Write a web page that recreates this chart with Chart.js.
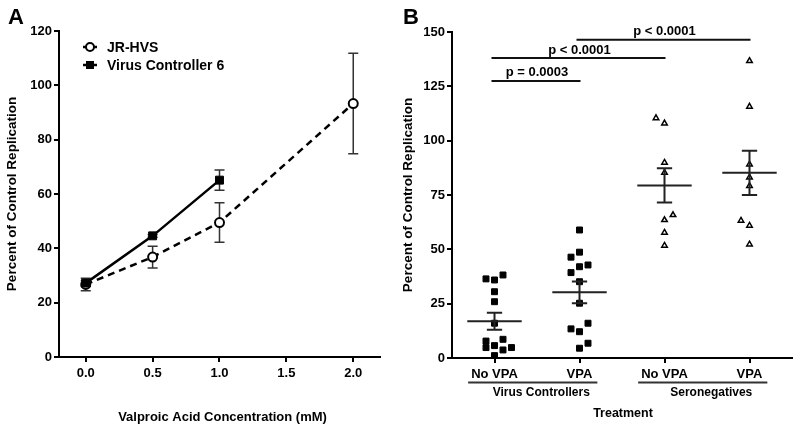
<!DOCTYPE html>
<html><head><meta charset="utf-8">
<script src="https://cdn.jsdelivr.net/npm/chart.js@4.4.0/dist/chart.umd.min.js"></script>
<style>
html,body{margin:0;padding:0;background:#fff;}
#wrap{position:relative;width:800px;height:432px;background:#fff;}
.box{position:absolute;top:0;width:400px;height:432px;}
canvas{display:block;}
</style></head><body>
<div id="wrap">
<div class="box" style="left:0"><canvas id="cA" width="400" height="432"></canvas></div>
<div class="box" style="left:400px"><canvas id="cB" width="400" height="432"></canvas></div>
</div>
<script>
// ---------- Panel A data ----------
const concA = [0, 0.5, 1.0, 2.0];
const jrMean = [26.7, 36.8, 49.5, 93.3];
const jrErr = [2.3, 4.0, 7.3, 18.5];
const vcConc = [0, 0.5, 1.0];
const vcMean = [27.2, 44.6, 65.1];
const vcErr = [1.0, 0.5, 3.7];
const xTicksA = [0, 0.5, 1.0, 1.5, 2.0];
const yTicksA = [0, 20, 40, 60, 80, 100, 120];
const seriesNamesA = ['JR-HVS', 'Virus Controller 6'];
const xTitleA = 'Valproic Acid Concentration (mM)';
const yTitle = 'Percent of Control Replication';

// ---------- Panel B data ----------
const groupLabelsB = ['No VPA', 'VPA', 'No VPA', 'VPA'];
const cohortsB = ['Virus Controllers', 'Seronegatives'];
const vcNoVpa = [36.4, 35.9, 38.2, 30.5, 25.9, 16.0, 7.8, 8.6, 4.8, 5.7, 3.7, 4.8, 1.1];
const vcNoVpaCol = [-1, 0, 1, 0, 0, 0, -1, 1, -1, 0, 1, 2, 0];
const vcVpa = [58.9, 46.4, 48.7, 42.8, 42.0, 39.3, 35.1, 25.2, 16.0, 13.4, 12.1, 6.8, 4.5];
const vcVpaCol = [0, -1, 0, 1, 0, -1, 0, 0, 1, -1, 0, 1, 0];
const snNoVpa = [110.4, 108.0, 89.9, 85.3, 65.8, 63.5, 57.7, 51.7];
const snNoVpaCol = [-1, 0, 0, 0, 1, 0, 0, 0];
const snVpa = [136.7, 115.7, 89.1, 83.1, 79.2, 63.2, 60.9, 52.3];
const snVpaCol = [0, 0, 0, 0, 0, -1, 0, 0];
const meansB = [16.9, 30.2, 79.4, 85.2];
const semB = [3.9, 5.0, 7.9, 10.2];
const sigPairs = [[1, 2], [1, 3], [2, 4]];
const sigHeights = [127.5, 138, 146.4];
const sigLabels = ['p = 0.0003', 'p < 0.0001', 'p < 0.0001'];
const yTicksB = [0, 25, 50, 75, 100, 125, 150];
const xTitleB = 'Treatment';

const FONT = "'Liberation Sans', Arial, Helvetica, sans-serif";
const JIT = 0.1;

function axisCommon() {
  return {
    grid: { display: true, drawOnChartArea: false, drawTicks: true, tickLength: 5, color: '#000', lineWidth: 2 },
    border: { display: true, color: '#000', width: 2 },
    ticks: { color: '#000', font: { family: FONT, size: 13, weight: 'bold' } }
  };
}

// ---------- Chart A ----------
const errPluginA = {
  id: 'errA',
  beforeDatasetsDraw(chart) {
    const ctx = chart.ctx, xs = chart.scales.x, ys = chart.scales.y;
    ctx.save();
    ctx.strokeStyle = '#333'; ctx.lineWidth = 1.5;
    const draw = (xv, m, e) => {
      const px = xs.getPixelForValue(xv), t = ys.getPixelForValue(m + e), b = ys.getPixelForValue(m - e);
      ctx.beginPath();
      ctx.moveTo(px, t); ctx.lineTo(px, b);
      ctx.moveTo(px - 5, t); ctx.lineTo(px + 5, t);
      ctx.moveTo(px - 5, b); ctx.lineTo(px + 5, b);
      ctx.stroke();
    };
    concA.forEach((c, i) => draw(c, jrMean[i], jrErr[i]));
    vcConc.forEach((c, i) => draw(c, vcMean[i], vcErr[i]));
    ctx.restore();
  },
  afterDraw(chart) {
    const ctx = chart.ctx, a = chart.chartArea;
    ctx.save();
    ctx.fillStyle = '#000';
    ctx.font = 'bold 22px ' + FONT;
    ctx.textAlign = 'left'; ctx.textBaseline = 'alphabetic';
    ctx.fillText('A', 8, 24);
    // y title
    ctx.font = 'bold 13.5px ' + FONT;
    ctx.textAlign = 'center'; ctx.textBaseline = 'middle';
    ctx.save();
    ctx.translate(12, (a.top + a.bottom) / 2);
    ctx.rotate(-Math.PI / 2);
    ctx.fillText(yTitle, 0, 0);
    ctx.restore();
    // x title
    ctx.font = 'bold 13px ' + FONT;
    ctx.fillText(xTitleA, (a.left + a.right) / 2 + 3, 417);
    // legend
    const items = [
      { y: 47, style: 'circle', r: 4, name: seriesNamesA[0] },
      { y: 65, style: 'rect', r: 5, name: seriesNamesA[1] }
    ];
    items.forEach(it => {
      ctx.strokeStyle = '#000'; ctx.lineWidth = 2.5;
      ctx.beginPath(); ctx.moveTo(83, it.y); ctx.lineTo(97, it.y); ctx.stroke();
      ctx.lineWidth = 2;
      ctx.beginPath();
      if (it.style === 'circle') { ctx.fillStyle = '#fff'; ctx.arc(90, it.y, it.r, 0, Math.PI * 2); ctx.fill(); ctx.stroke(); }
      else { ctx.fillStyle = '#000'; ctx.rect(90 - 4, it.y - 4, 8, 8); ctx.fill(); }
      ctx.fillStyle = '#000';
      ctx.font = 'bold 14px ' + FONT;
      ctx.textAlign = 'left'; ctx.textBaseline = 'middle';
      ctx.fillText(it.name, 107, it.y + 1);
    });
    ctx.restore();
  }
};

const axA_x = axisCommon();
const axA_y = axisCommon();
new Chart(document.getElementById('cA'), {
  type: 'scatter',
  data: {
    datasets: [
      {
        label: seriesNamesA[0], order: 1,
        data: concA.map((c, i) => ({ x: c, y: jrMean[i] })),
        showLine: true, borderColor: '#000', borderWidth: 2.5, borderDash: [7, 5],
        pointStyle: 'circle', pointRadius: 4.5, pointBackgroundColor: '#fff',
        pointBorderColor: '#000', pointBorderWidth: 2
      },
      {
        label: seriesNamesA[1], order: 0,
        data: vcConc.map((c, i) => ({ x: c, y: vcMean[i] })),
        showLine: true, borderColor: '#000', borderWidth: 2.5,
        pointStyle: 'rect', pointRadius: 5.6, pointBackgroundColor: '#000',
        pointBorderColor: '#000', pointBorderWidth: 1
      }
    ]
  },
  options: {
    responsive: false, animation: false, devicePixelRatio: 1,
    layout: { padding: { top: 31, right: 20, left: 0, bottom: 0 } },
    plugins: { legend: { display: false }, tooltip: { enabled: false } },
    scales: {
      x: Object.assign(axA_x, {
        type: 'linear', min: -0.2, max: 2.2,
        afterBuildTicks: s => { s.ticks = xTicksA.map(v => ({ value: v })); },
        afterFit: s => { s.height = 75; },
        ticks: Object.assign(axA_x.ticks, { padding: 4, callback: v => Number(v).toFixed(1) })
      }),
      y: Object.assign(axA_y, {
        type: 'linear', min: 0, max: 120,
        afterBuildTicks: s => { s.ticks = yTicksA.map(v => ({ value: v })); },
        afterFit: s => { s.width = 59; },
        ticks: Object.assign(axA_y.ticks, { padding: 2 })
      })
    }
  },
  plugins: [errPluginA]
});

// ---------- Chart B ----------
function pts(vals, cols, cat) { return vals.map((v, i) => ({ x: cat + cols[i] * JIT, y: v })); }

const pluginB = {
  id: 'decoB',
  afterDatasetsDraw(chart) {
    const ctx = chart.ctx, xs = chart.scales.x, ys = chart.scales.y;
    ctx.save();
    ctx.strokeStyle = '#222'; ctx.lineWidth = 2;
    meansB.forEach((m, i) => {
      const c = i + 1;
      const py = ys.getPixelForValue(m);
      ctx.beginPath();
      ctx.moveTo(xs.getPixelForValue(c - 0.32), py); ctx.lineTo(xs.getPixelForValue(c + 0.32), py);
      const t = ys.getPixelForValue(m + semB[i]), b = ys.getPixelForValue(m - semB[i]);
      const px = xs.getPixelForValue(c), hl = xs.getPixelForValue(c - 0.09), hr = xs.getPixelForValue(c + 0.09);
      ctx.moveTo(px, t); ctx.lineTo(px, b);
      ctx.moveTo(hl, t); ctx.lineTo(hr, t);
      ctx.moveTo(hl, b); ctx.lineTo(hr, b);
      ctx.stroke();
    });
    ctx.restore();
  },
  afterDraw(chart) {
    const ctx = chart.ctx, a = chart.chartArea, xs = chart.scales.x, ys = chart.scales.y;
    ctx.save();
    ctx.fillStyle = '#000';
    ctx.font = 'bold 22px ' + FONT;
    ctx.textAlign = 'left'; ctx.textBaseline = 'alphabetic';
    ctx.fillText('B', 3, 24);
    // significance bars
    ctx.strokeStyle = '#111'; ctx.lineWidth = 2;
    ctx.font = 'bold 13px ' + FONT;
    ctx.textAlign = 'center'; ctx.textBaseline = 'middle';
    sigPairs.forEach((p, i) => {
      const x1 = xs.getPixelForValue(p[0]) - 3, x2 = xs.getPixelForValue(p[1]) + 1;
      const py = ys.getPixelForValue(sigHeights[i]);
      ctx.beginPath(); ctx.moveTo(x1, py); ctx.lineTo(x2, py); ctx.stroke();
      ctx.fillText(sigLabels[i], xs.getPixelForValue((p[0] + p[1]) / 2), py - 8);
    });
    // group underlines and labels
    ctx.lineWidth = 2; ctx.strokeStyle = '#333';
    cohortsB.forEach((name, g) => {
      const c1 = g * 2 + 1, c2 = g * 2 + 2;
      const l = xs.getPixelForValue(c1 - 0.31), r = xs.getPixelForValue(c2 + 0.21);
      ctx.beginPath(); ctx.moveTo(l, 382.5); ctx.lineTo(r, 382.5); ctx.stroke();
      ctx.font = 'bold 12px ' + FONT;
      ctx.fillText(name, xs.getPixelForValue((c1 + c2) / 2 + 0.05), 393);
    });
    ctx.font = 'bold 12.5px ' + FONT;
    ctx.fillText(xTitleB, (a.left + a.right) / 2 + 1, 414);
    // y title
    ctx.font = 'bold 13.5px ' + FONT;
    ctx.save();
    ctx.translate(8, (a.top + a.bottom) / 2);
    ctx.rotate(-Math.PI / 2);
    ctx.fillText(yTitle, 0, 0);
    ctx.restore();
    ctx.restore();
  }
};

const sqStyle = { pointStyle: 'rect', pointRadius: 4.2, pointBackgroundColor: '#000', pointBorderColor: '#000', pointBorderWidth: 1, showLine: false };
const triStyle = { pointStyle: 'triangle', pointRadius: 3.2, pointBackgroundColor: '#fff', pointBorderColor: '#000', pointBorderWidth: 1.5, showLine: false };
const axB_x = axisCommon();
const axB_y = axisCommon();
new Chart(document.getElementById('cB'), {
  type: 'scatter',
  data: {
    datasets: [
      Object.assign({ label: 'VC No VPA', data: pts(vcNoVpa, vcNoVpaCol, 1) }, sqStyle),
      Object.assign({ label: 'VC VPA', data: pts(vcVpa, vcVpaCol, 2) }, sqStyle),
      Object.assign({ label: 'SN No VPA', data: pts(snNoVpa, snNoVpaCol, 3) }, triStyle),
      Object.assign({ label: 'SN VPA', data: pts(snVpa, snVpaCol, 4) }, triStyle)
    ]
  },
  options: {
    responsive: false, animation: false, devicePixelRatio: 1,
    layout: { padding: { top: 32, right: 8, left: 0, bottom: 0 } },
    plugins: { legend: { display: false }, tooltip: { enabled: false } },
    scales: {
      x: Object.assign(axB_x, {
        type: 'linear', min: 0.5, max: 4.5,
        afterBuildTicks: s => { s.ticks = [1, 2, 3, 4].map(v => ({ value: v })); },
        afterFit: s => { s.height = 74; },
        ticks: Object.assign(axB_x.ticks, { padding: 4, callback: v => groupLabelsB[Math.round(v) - 1] })
      }),
      y: Object.assign(axB_y, {
        type: 'linear', min: 0, max: 150,
        afterBuildTicks: s => { s.ticks = yTicksB.map(v => ({ value: v })); },
        afterFit: s => { s.width = 52; },
        ticks: Object.assign(axB_y.ticks, { padding: 2 })
      })
    }
  },
  plugins: [pluginB]
});
</script>
</body></html>
